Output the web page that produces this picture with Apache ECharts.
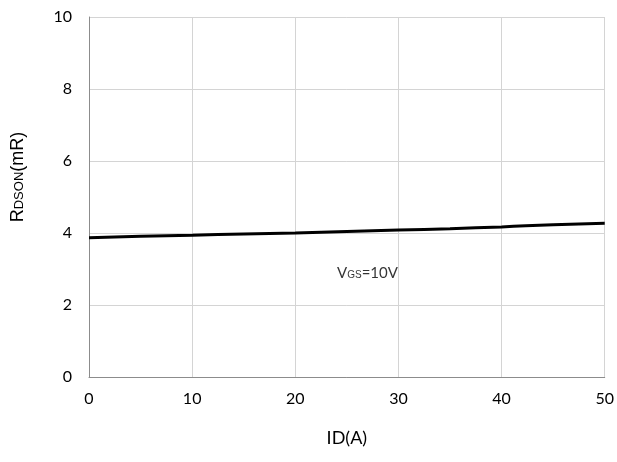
<!DOCTYPE html>
<html><head><meta charset="utf-8">
<script src="https://cdn.jsdelivr.net/npm/echarts@6/dist/echarts.min.js"></script>
<style>html,body{margin:0;padding:0;background:#fff}#c{width:617px;height:462px}</style>
</head><body><div id="c"></div>
<script>
const xValues = [0, 5, 10, 15, 20, 25, 30, 35, 40, 45, 50];
const rdsonValues = [3.87, 3.91, 3.94, 3.97, 4.0, 4.04, 4.08, 4.12, 4.17, 4.23, 4.27];
const xTicks = [0, 10, 20, 30, 40, 50];
const yTicks = [0, 2, 4, 6, 8, 10];
const annotation = { x: 27.0, y: 2.92 };

const font = 'Lato, "Open Sans", sans-serif';
const arial = '"Liberation Sans", Arial, sans-serif';
const chart = echarts.init(document.getElementById('c'));
chart.setOption({
  backgroundColor: '#fff',
  animation: false,
  grid: { left: 89, right: 9, top: 17, bottom: 85 },
  graphic: [{
    type: 'text',
    x: 18, y: 177,
    rotation: Math.PI / 2,
    style: {
      text: '{b|R}{s|DSON}{b|(mR)}',
      align: 'center', verticalAlign: 'middle',
      rich: {
        b: { fontFamily: arial, fontSize: 18, fill: '#000', color: '#000', verticalAlign: 'middle', lineHeight: 20 },
        s: { fontFamily: arial, fontSize: 13, fill: '#000', color: '#000', verticalAlign: 'middle', lineHeight: 20, padding: [2, 0, 0, 0] }
      }
    }
  }],
  xAxis: {
    type: 'value', min: xTicks[0], max: xTicks[xTicks.length - 1], interval: 10,
    name: 'ID(A)', nameLocation: 'middle', nameGap: 52,
    nameTextStyle: { fontFamily: font, fontSize: 18, color: '#000' },
    axisLine: { show: true, lineStyle: { color: '#8c8c8c', width: 1 } },
    axisTick: { show: false },
    axisLabel: { fontFamily: font, fontSize: 16, color: '#000', margin: 14 },
    splitLine: { show: true, lineStyle: { color: '#d4d4d4', width: 1 } }
  },
  yAxis: {
    type: 'value', min: yTicks[0], max: yTicks[yTicks.length - 1], interval: 2,
    axisLine: { show: true, lineStyle: { color: '#8c8c8c', width: 1 } },
    axisTick: { show: false },
    axisLabel: { fontFamily: font, fontSize: 16, color: '#000', margin: 17 },
    splitLine: { show: true, lineStyle: { color: '#d4d4d4', width: 1 } }
  },
  series: [{
    type: 'line',
    data: xValues.map((x, i) => [x, rdsonValues[i]]),
    smooth: true, showSymbol: false,
    lineStyle: { color: '#000', width: 3 },
    z: 3
  }, {
    type: 'scatter',
    data: [[annotation.x, annotation.y]],
    symbolSize: 0,
    label: {
      show: true, position: 'inside',
      formatter: '{b|V}{s|GS}{m|=10V}',
      rich: {
        b: { fontFamily: font, fontSize: 15, color: '#000', verticalAlign: 'bottom', lineHeight: 17 },
        s: { fontFamily: arial, fontSize: 10, color: '#000', verticalAlign: 'bottom', lineHeight: 15 },
        m: { fontFamily: font, fontSize: 15, color: '#000', verticalAlign: 'bottom', lineHeight: 17 }
      }
    }
  }]
});
</script></body></html>
